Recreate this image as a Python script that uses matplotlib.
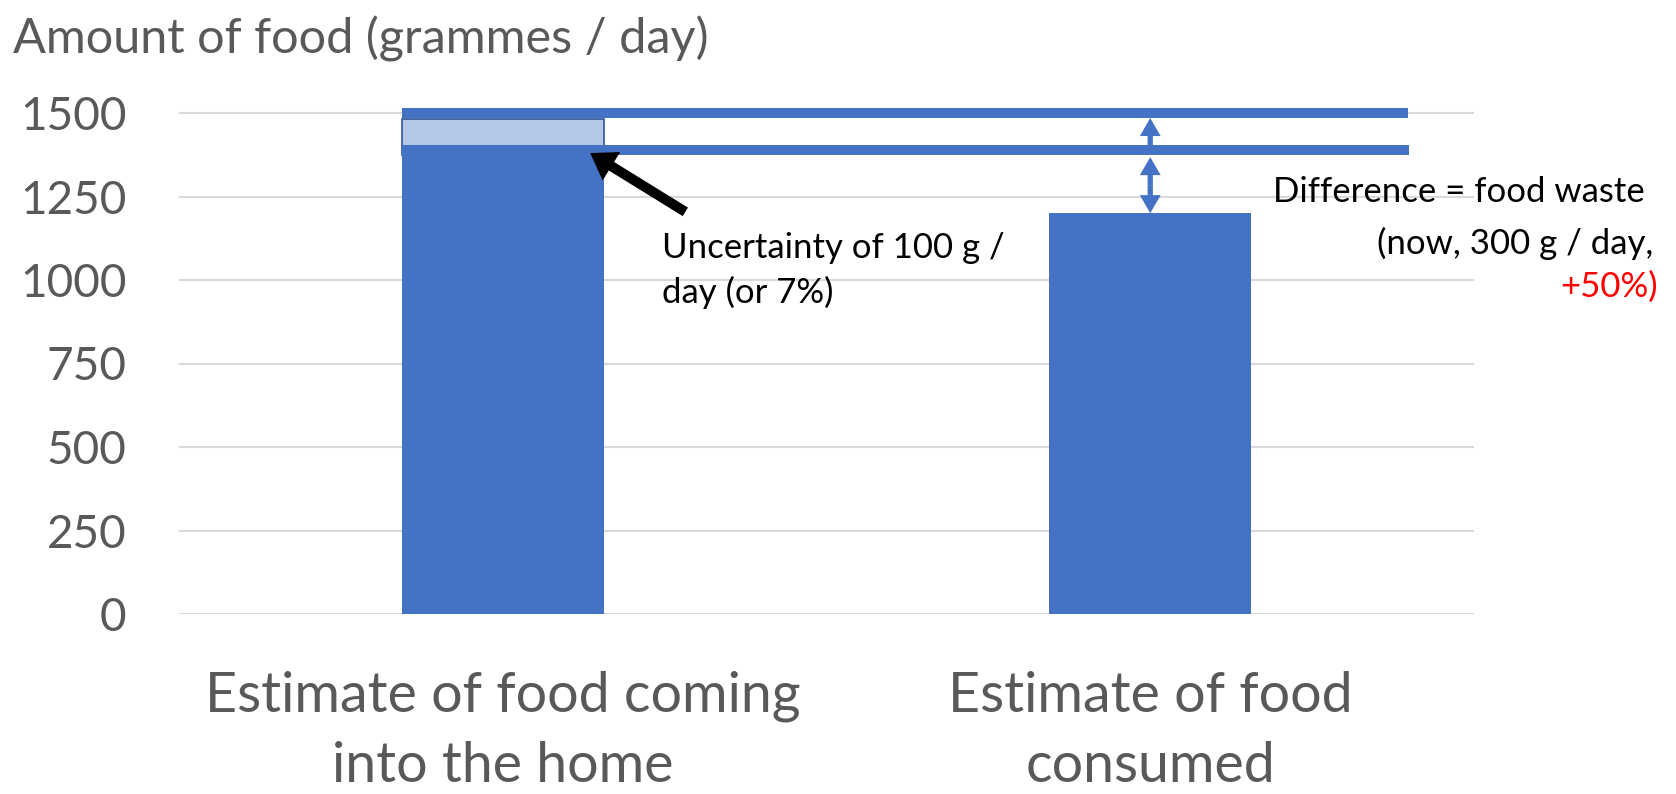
import matplotlib
matplotlib.use("Agg")
import matplotlib.pyplot as plt
import matplotlib.transforms as mtransforms

# ---- data ----
categories = ["Estimate of food coming\ninto the home", "Estimate of food\nconsumed"]
values = [1405, 1200]
uncertainty_low = 1375
uncertainty_high = 1482
upper_estimate = 1500
lower_estimate = 1390
yticks = [0, 250, 500, 750, 1000, 1250, 1500]
ylabel = "Amount of food (grammes / day)"
note_uncertainty = ["Uncertainty of 100 g /", "day (or 7%)"]
note_difference = ["Difference = food waste", "(now, 300 g / day,", "+50%)"]

W, H = 1676, 794
DPI = 100
BLUE = "#4472C4"
GREY = "#595959"

plt.rcParams["font.family"] = ["Lato", "DejaVu Sans"]

fig = plt.figure(figsize=(W / DPI, H / DPI), dpi=DPI)

def fx(px):
    return px / W

def fy(py):
    return 1 - py / H

# axes: x from 179 to 1474 px, y=0 at 614 px, 1500 at 113 px
ymax = 1600
px_per_unit = (614 - 113) / 1500
top_px = 614 - ymax * px_per_unit
ax = fig.add_axes([fx(179), fy(614), fx(1474) - fx(179), (614 - top_px) / H])
ax.set_xlim(-0.5, 1.5)
ax.set_ylim(0, ymax)
for s in ax.spines.values():
    s.set_visible(False)
ax.set_yticks(yticks)
ax.set_yticklabels([str(t) for t in yticks], fontsize=33, color=GREY)
ax.tick_params(axis="y", length=0, pad=38)
ax.set_xticks([])
ax.yaxis.grid(True, color="#D9D9D9", lw=1.5, zorder=0)
ax.set_axisbelow(True)

xs = list(range(len(categories)))
bw = 0.312

# uncertainty box
ax.bar(xs[0], uncertainty_high - uncertainty_low, bottom=uncertainty_low, width=bw,
       color="#B4C7E7", edgecolor="#2F5597", lw=1.2, zorder=2)
# bars
ax.bar(xs, values, width=bw, color=BLUE, zorder=3)

# horizontal estimate lines
ax.plot([xs[0] - bw / 2, 1.398], [upper_estimate, upper_estimate], color=BLUE,
        lw=7.2, solid_capstyle="butt", zorder=4, clip_on=False)
ax.plot([xs[0] + bw / 2, 1.400], [lower_estimate, lower_estimate], color=BLUE,
        lw=7.2, solid_capstyle="butt", zorder=4, clip_on=False)

# blue double arrows at bar 2 centre
aprops = dict(width=3.8, headwidth=15, headlength=13, facecolor=BLUE,
              edgecolor="none", shrink=0)
ax.annotate("", xy=(xs[1], 1485), xytext=(xs[1], lower_estimate), arrowprops=aprops, zorder=5)
mid_b = (1368 + values[1]) / 2
ax.annotate("", xy=(xs[1], 1368), xytext=(xs[1], mid_b), arrowprops=aprops, zorder=5)
ax.annotate("", xy=(xs[1], values[1]), xytext=(xs[1], mid_b), arrowprops=aprops, zorder=5)

# black arrow to uncertainty box
ax.annotate("", xy=(0.135, 1380), xytext=(0.282, 1204),
            arrowprops=dict(width=7.2, headwidth=24, headlength=18, facecolor="black",
                            edgecolor="none", shrink=0), zorder=6)

# texts
fig.text(fx(13), fy(53), ylabel, fontsize=35, color=GREY, ha="left", va="baseline")

fig.text(fx(662), fy(258), note_uncertainty[0], fontsize=25, color="black", ha="left", va="baseline")
fig.text(fx(662), fy(303), note_uncertainty[1], fontsize=25, color="black", ha="left", va="baseline")

fig.text(fx(1645), fy(202), note_difference[0], fontsize=25, color="black", ha="right", va="baseline")
fig.text(fx(1653), fy(254), note_difference[1], fontsize=25, color="black", ha="right", va="baseline")
fig.text(fx(1658), fy(297), note_difference[2], fontsize=25, color="red", ha="right", va="baseline")

# category labels (two lines each)
trans = mtransforms.blended_transform_factory(ax.transData, fig.transFigure)
for x, cat in zip(xs, categories):
    lines = cat.split("\n")
    for i, line in enumerate(lines):
        ax.text(x, fy(712 + 70 * i), line, transform=trans, fontsize=40, color=GREY,
                ha="center", va="baseline")

fig.savefig("out.png", dpi=DPI)
